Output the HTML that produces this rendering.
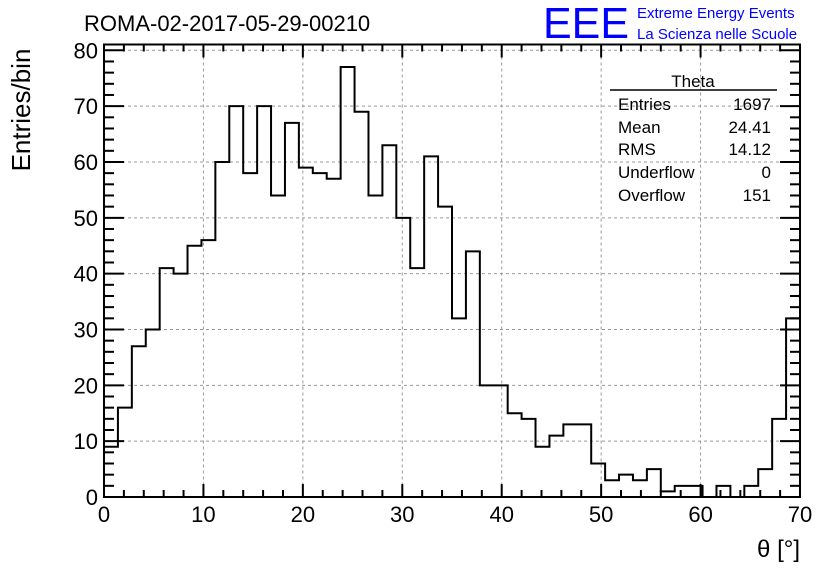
<!DOCTYPE html>
<html><head><meta charset="utf-8"><style>
body{margin:0;background:#fff;}
svg text{font-family:"Liberation Sans",sans-serif;}
</style></head><body>
<svg width="836" height="572" xmlns="http://www.w3.org/2000/svg">
<rect width="836" height="572" fill="#fff"/>
<text x="84" y="31" font-size="22">ROMA-02-2017-05-29-00210</text>
<text x="543" y="38" font-size="44" fill="#0000ff" textLength="86" lengthAdjust="spacingAndGlyphs">EEE</text>
<text x="637" y="18" font-size="15" fill="#0000ff">Extreme Energy Events</text>
<text x="637" y="39" font-size="15" fill="#0000ff">La Scienza nelle Scuole</text>
<g id="grid"></g>
<g id="ticks"></g>
<path id="hist" fill="none" stroke="#000" stroke-width="2"/>
<rect x="104" y="44.5" width="696" height="452.5" fill="none" stroke="#000" stroke-width="2"/>
<text x="30" y="110" font-size="26" transform="rotate(-90 30 110)" text-anchor="middle">Entries/bin</text>
<text x="800" y="557" font-size="24" text-anchor="end">θ [°]</text>
<g>
<text x="693" y="87" font-size="17" text-anchor="middle">Theta</text>
<line x1="610" y1="90" x2="777" y2="90" stroke="#000" stroke-width="1.5"/>
<text x="618" y="110" font-size="17">Entries</text><text x="771" y="110" font-size="17" text-anchor="end">1697</text>
<text x="618" y="133" font-size="17">Mean</text><text x="771" y="133" font-size="17" text-anchor="end">24.41</text>
<text x="618" y="155" font-size="17">RMS</text><text x="771" y="155" font-size="17" text-anchor="end">14.12</text>
<text x="618" y="178" font-size="17">Underflow</text><text x="771" y="178" font-size="17" text-anchor="end">0</text>
<text x="618" y="201" font-size="17">Overflow</text><text x="771" y="201" font-size="17" text-anchor="end">151</text>
</g>
</svg>
<script>
const counts=[9,16,27,30,41,40,45,46,60,70,58,70,54,67,59,58,57,77,69,54,63,50,41,61,52,32,44,20,20,15,14,9,11,13,13,6,3,4,3,5,1,2,2,0,2,0,2,5,14,32];
const xTicks=[0,10,20,30,40,50,60,70];
const yTicks=[0,10,20,30,40,50,60,70,80];
const xMin=0,xMax=70,yMax=81.04;
const L=104,R=800,T=44.5,B=497;
const sx=v=>L+(v-xMin)/(xMax-xMin)*(R-L);
const sy=v=>B-v/yMax*(B-T);
const NS="http://www.w3.org/2000/svg";
const grid=document.getElementById('grid'),ticks=document.getElementById('ticks');
function mk(tag,attrs,parent){const e=document.createElementNS(NS,tag);for(const k in attrs)e.setAttribute(k,attrs[k]);parent.appendChild(e);return e;}
xTicks.forEach(v=>{
  const x=sx(v);
  if(v>xMin&&v<xMax){const g=mk('line',{x1:x,x2:x,y1:T,y2:B,stroke:'#999','stroke-dasharray':'3,3'},grid);
  
  }
  const t=mk('text',{x:x,y:522,'font-size':22,'text-anchor':'middle'},ticks);t.textContent=v;
  
  
  mk('line',{x1:x,x2:x,y1:B,y2:B-13,stroke:'#000','stroke-width':2},ticks);
  mk('line',{x1:x,x2:x,y1:T,y2:T+13,stroke:'#000','stroke-width':2},ticks);
});
for(let v=xMin+2;v<xMax;v+=2){if(v%10){const x=sx(v);mk('line',{x1:x,x2:x,y1:B,y2:B-7,stroke:'#000','stroke-width':2},ticks);mk('line',{x1:x,x2:x,y1:T,y2:T+7,stroke:'#000','stroke-width':2},ticks);}}
yTicks.forEach(v=>{
  const y=sy(v);
  if(v>0){const g=mk('line',{x1:L,x2:R,y1:y,y2:y,stroke:'#999','stroke-dasharray':'3,3'},grid);
  
  }
  const t=mk('text',{x:98,y:y+8,'font-size':22,'text-anchor':'end'},ticks);t.textContent=v;
  
  
  mk('line',{x1:L,x2:L+20,y1:y,y2:y,stroke:'#000','stroke-width':2},ticks);
  mk('line',{x1:R,x2:R-20,y1:y,y2:y,stroke:'#000','stroke-width':2},ticks);
});
for(let v=2;v<yMax;v+=2){if(v%10){const y=sy(v);mk('line',{x1:L,x2:L+10,y1:y,y2:y,stroke:'#000','stroke-width':2},ticks);mk('line',{x1:R,x2:R-10,y1:y,y2:y,stroke:'#000','stroke-width':2},ticks);}}
const w=(xMax-xMin)/counts.length;
let d='M'+sx(xMin)+' '+sy(0);
counts.forEach((c,i)=>{d+=' L'+sx(xMin+i*w)+' '+sy(c)+' L'+sx(xMin+(i+1)*w)+' '+sy(c);});
d+=' L'+sx(xMax)+' '+sy(0);
document.getElementById('hist').setAttribute('d',d);
</script>
</body></html>
